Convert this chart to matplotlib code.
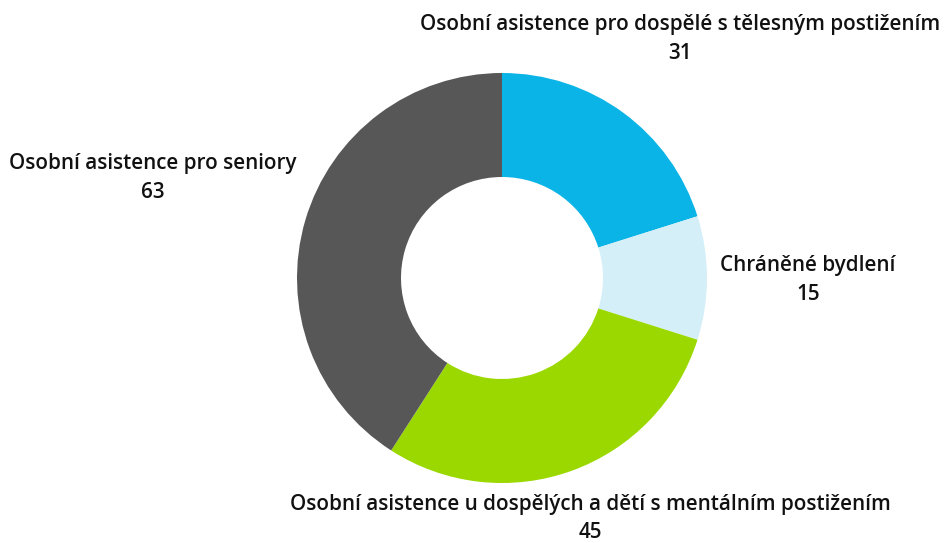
import matplotlib
matplotlib.use("Agg")
import matplotlib.pyplot as plt

categories = [
    "Osobní asistence pro dospělé s tělesným postižením",
    "Chráněné bydlení",
    "Osobní asistence u dospělých a dětí s mentálním postižením",
    "Osobní asistence pro seniory",
]
values = [31, 15, 45, 63]
colors = ["#0BB4E6", "#D4EFF8", "#9BD800", "#575757"]

W, H = 945, 543
fig = plt.figure(figsize=(W / 100, H / 100), dpi=100)
ax = fig.add_axes([0, 0, 1, 1])

cx, cy, R = 502, H - 278, 205
ax.pie(values, colors=colors, startangle=90, counterclock=False,
       center=(cx, cy), radius=R, frame=True,
       wedgeprops=dict(width=R - 101, linewidth=0))
ax.set_xlim(0, W)
ax.set_ylim(0, H)
ax.set_aspect("equal")
ax.axis("off")

# (x centre, baseline of name line) in pixels from top-left
label_pos = [(680, 30), (808, 271), (590, 510), (153, 169)]
for (x, y), name, v in zip(label_pos, categories, values):
    ax.text(x, H - y, name, ha="center", va="baseline", fontsize=14.9,
            fontweight="semibold", family="Open Sans", color="#111111")
    ax.text(x, H - y - 28.5, str(v), ha="center", va="baseline", fontsize=14.9,
            fontweight="semibold", family="Open Sans", color="#111111")

fig.savefig("out.png", dpi=100)
